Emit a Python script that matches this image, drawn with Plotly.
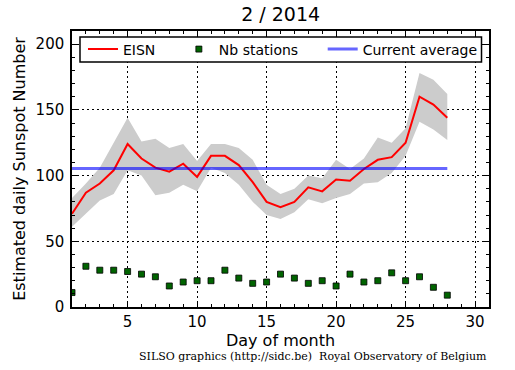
import plotly.graph_objects as go

days = list(range(1, 29))
eisn = [71, 87, 94, 104, 124, 113, 106, 103, 109, 99, 115, 115, 108, 95, 80, 76,
        80, 91, 88, 97, 96, 105, 112, 114, 125, 160, 154, 144]
eisn_upper = [83, 94, 106, 125, 144, 126, 128, 121, 124, 111, 124, 124, 121, 112, 93, 86,
              90, 100, 98, 112, 105, 113, 129, 125, 136, 178, 173, 162]
eisn_lower = [61, 71, 81, 86, 104, 100, 85, 87, 93, 88, 106, 102, 93, 80, 70, 67,
              72, 82, 79, 83, 86, 94, 95, 102, 115, 141, 135, 127]
nb_stations = [11, 31, 28, 28, 27, 25, 23, 16, 19, 20, 20, 28, 22, 18, 19, 25,
               22, 18, 20, 16, 25, 19, 20, 26, 20, 23, 15, 9]
current_average = 105.3

title_text = "2 / 2014"
x_title = "Day of month"
y_title = "Estimated daily Sunspot Number"
footer = "SILSO graphics (http://sidc.be)  Royal Observatory of Belgium"

FONT = "DejaVu Sans"

fig = go.Figure()
fig.add_trace(go.Scatter(x=days, y=eisn_lower, mode="lines", line=dict(width=0, color="#cccccc"),
                         showlegend=False, hoverinfo="skip"))
fig.add_trace(go.Scatter(x=days, y=eisn_upper, mode="lines", line=dict(width=0, color="#cccccc"),
                         fill="tonexty", fillcolor="#cccccc", showlegend=False, hoverinfo="skip"))
fig.add_trace(go.Scatter(x=days, y=eisn, mode="lines", name="EISN", legend="legend",
                         line=dict(color="red", width=2)))
fig.add_trace(go.Scatter(x=days, y=nb_stations, mode="markers", name="Nb stations", legend="legend2",
                         marker=dict(symbol="square", size=6, color="#006400",
                                     line=dict(color="black", width=0.8))))
fig.add_trace(go.Scatter(x=[days[0], days[-1]], y=[current_average, current_average],
                         mode="lines", name="Current average", legend="legend3",
                         line=dict(color="rgba(0,0,255,0.6)", width=3)))

axis_common = dict(
    showline=True, linecolor="black", linewidth=1.5, mirror="allticks",
    ticks="inside", ticklen=6, tickwidth=1, tickcolor="black",
    showgrid=True, gridcolor="black", griddash="1.5px,3.5px", gridwidth=1,
    zeroline=False,
    tickfont=dict(family=FONT, size=15, color="black"),
)

fig.update_xaxes(range=[1, 31], tick0=0, dtick=5,
                 minor=dict(dtick=1, ticks="inside", ticklen=3, tickcolor="black", showgrid=False),
                 title=dict(text=x_title, font=dict(family=FONT, size=16, color="black"), standoff=4),
                 **axis_common)
fig.update_yaxes(range=[0, 210], tick0=0, dtick=50, ticklabelstandoff=3,
                 minor=dict(dtick=10, ticks="inside", ticklen=3, tickcolor="black", showgrid=False),
                 title=dict(text=y_title, font=dict(family=FONT, size=16, color="black"), standoff=6),
                 **axis_common)

PL, PW, PB, PH = 72, 417.5, 307, 276


def px_x(v):
    return (v - PL) / PW


def px_y(v):
    return (PB - v) / PH


leg_common = dict(orientation="h", yanchor="middle", xanchor="left", y=px_y(49.5),
                  bgcolor="rgba(0,0,0,0)", borderwidth=0, itemwidth=30,
                  font=dict(family=FONT, size=14, color="black"))

fig.update_layout(
    width=515, height=370,
    margin=dict(l=72, r=25.5, t=31, b=63),
    paper_bgcolor="white", plot_bgcolor="white",
    title=dict(text=title_text, x=0.545, xanchor="center", y=0.962, yanchor="middle",
               font=dict(family=FONT, size=19, color="black")),
    legend=dict(x=px_x(83), **leg_common),
    legend2=dict(x=px_x(179), **leg_common),
    legend3=dict(x=px_x(323), **leg_common),
    showlegend=True,
    shapes=[dict(type="rect", xref="paper", yref="paper", x0=px_x(80), x1=px_x(482),
                 y0=px_y(62), y1=px_y(37), line=dict(color="black", width=1.5),
                 fillcolor="white", layer="above")],
    annotations=[dict(text=footer, xref="paper", yref="paper", x=1.0, y=px_y(356),
                      xanchor="right", yanchor="middle", showarrow=False,
                      font=dict(family="DejaVu Serif", size=11, color="black"))],
)

fig.write_html("out.html", config={"displayModeBar": False},
               post_script="document.body.style.margin='0px';")
